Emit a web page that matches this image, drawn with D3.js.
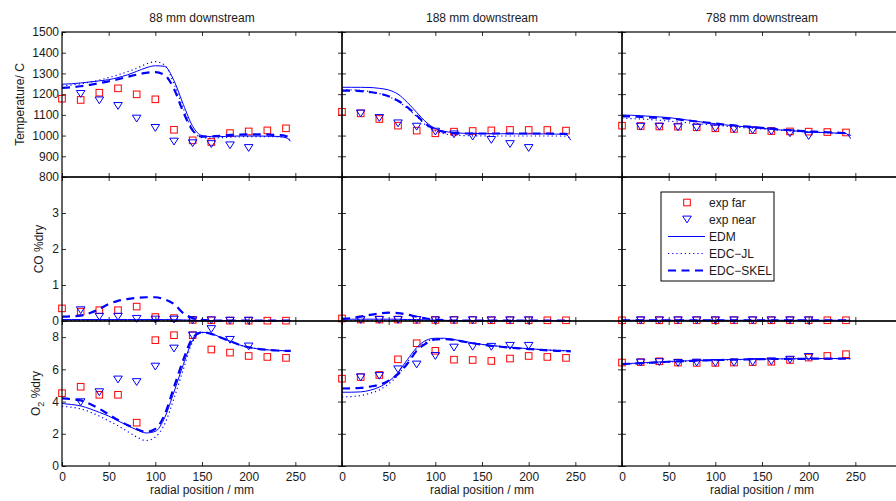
<!DOCTYPE html>
<html>
<head>
<meta charset="utf-8">
<script src="https://cdn.jsdelivr.net/npm/d3@7"></script>
<style>
  body { margin: 0; background: #fff; }
  svg text { font-family: "Liberation Sans", Arial, sans-serif; font-size: 12px; fill: #1a1a1a; }
</style>
</head>
<body>
<div id="chart"></div>
<script>
// radial positions (mm)
var radialFar = [0, 20, 40, 60, 80, 100, 120, 140, 160, 180, 200, 220, 240];
var radialNear = [20, 40, 60, 80, 100, 120, 140, 160, 180, 200];
var radialModel = [0, 10, 20, 30, 40, 50, 60, 70, 80, 90, 100, 110, 120, 130, 140, 150, 160, 170, 180, 190, 200, 210, 220, 230, 240, 245];

var columnTitles = ["88 mm downstream", "188 mm downstream", "788 mm downstream"];
var seriesNames = ["exp far", "exp near", "EDM", "EDC\u2212JL", "EDC\u2212SKEL"];
var xTicks = [0, 50, 100, 150, 200, 250];
var tempTicks = [800, 900, 1000, 1100, 1200, 1300, 1400, 1500];
var coTicks = [0, 1, 2, 3];
var o2Ticks = [0, 2, 4, 6, 8];

// temperature, 88 mm
var tempFar88 = [1178, 1172, 1207, 1228, 1199, 1175, 1028, 977, 969, 1012, 1020, 1025, 1035];
var tempNear88 = [1201, 1170, 1143, 1082, 1037, 971, 963, 959, 953, 940];
var tempEDM88 = [1248, 1250, 1254, 1259, 1264, 1270, 1280, 1293, 1310, 1327, 1337, 1334, 1265, 1150, 1045, 1000, 995, 995, 997, 998, 998, 998, 997, 996, 990, 972];
var tempJL88 = [1240, 1244, 1250, 1258, 1268, 1280, 1293, 1308, 1325, 1345, 1357, 1340, 1250, 1130, 1030, 990, 988, 990, 992, 994, 995, 995, 995, 994, 990, 975];
var tempSKEL88 = [1230, 1233, 1238, 1245, 1253, 1262, 1272, 1283, 1294, 1303, 1306, 1292, 1225, 1113, 1025, 995, 996, 999, 1003, 1005, 1006, 1006, 1005, 1003, 998, 990];

// temperature, 188 mm
var tempFar188 = [1115, 1107, 1080, 1048, 1024, 1011, 1019, 1022, 1025, 1027, 1027, 1027, 1024];
var tempNear188 = [1107, 1085, 1059, 1043, 1019, 1006, 995, 979, 959, 940];
var tempEDM188 = [1233, 1233, 1233, 1232, 1228, 1220, 1200, 1160, 1112, 1065, 1034, 1020, 1014, 1011, 1010, 1009, 1009, 1009, 1009, 1008, 1008, 1008, 1008, 1007, 1005, 978];
var tempJL188 = [1222, 1221, 1218, 1212, 1203, 1188, 1165, 1132, 1092, 1050, 1022, 1008, 1002, 1000, 999, 999, 998, 998, 998, 998, 998, 998, 998, 998, 997, 985];
var tempSKEL188 = [1217, 1217, 1215, 1210, 1203, 1190, 1168, 1137, 1097, 1055, 1030, 1017, 1012, 1010, 1010, 1010, 1010, 1010, 1010, 1010, 1010, 1010, 1010, 1009, 1008, 1000];

// temperature, 788 mm
var tempFar788 = [1048, 1046, 1044, 1043, 1040, 1035, 1032, 1026, 1022, 1020, 1019, 1017, 1015];
var tempNear788 = [1043, 1043, 1040, 1038, 1035, 1032, 1026, 1020, 1011, 998];
var tempEDM788 = [1099, 1098, 1096, 1093, 1090, 1087, 1081, 1075, 1069, 1062, 1057, 1052, 1047, 1043, 1039, 1035, 1031, 1027, 1024, 1021, 1018, 1016, 1014, 1012, 1010, 985];
var tempJL788 = [1083, 1082, 1080, 1077, 1074, 1070, 1066, 1062, 1058, 1054, 1050, 1046, 1042, 1038, 1035, 1032, 1029, 1026, 1023, 1020, 1017, 1015, 1013, 1011, 1009, 995];
var tempSKEL788 = [1093, 1092, 1090, 1088, 1085, 1082, 1078, 1073, 1068, 1063, 1058, 1053, 1049, 1045, 1041, 1037, 1033, 1029, 1026, 1023, 1020, 1018, 1016, 1014, 1012, 1000];

// CO %dry
var coFar88 = [0.35, 0.26, 0.3, 0.3, 0.4, 0.11, 0.08, 0.03, 0.02, 0.01, 0.01, 0.01, 0.01];
var coNear88 = [0.3, 0.12, 0.12, 0.06, 0.04, 0.04, 0.02, 0.02, 0.01, 0.01];
var coEDM88 = [0.04, 0.04, 0.04, 0.04, 0.04, 0.04, 0.04, 0.04, 0.04, 0.04, 0.04, 0.04, 0.035, 0.03, 0.02, 0.01, 0.01, 0.01, 0.01, 0.01, 0.01, 0.01, 0.01, 0.01, 0.01, 0.01];
var coJL88 = [0.02, 0.02, 0.02, 0.02, 0.02, 0.02, 0.02, 0.02, 0.02, 0.02, 0.02, 0.02, 0.02, 0.02, 0.015, 0.01, 0.01, 0.01, 0.01, 0.01, 0.01, 0.01, 0.01, 0.01, 0.01, 0.01];
var coSKEL88 = [0.12, 0.13, 0.15, 0.22, 0.33, 0.47, 0.56, 0.61, 0.64, 0.66, 0.66, 0.6, 0.47, 0.22, 0.08, 0.03, 0.015, 0.01, 0.01, 0.01, 0.01, 0.01, 0.01, 0.01, 0.01, 0.01];

var coFar188 = [0.07, 0.04, 0.04, 0.04, 0.03, 0.03, 0.03, 0.03, 0.02, 0.02, 0.02, 0.02, 0.02];
var coNear188 = [0.03, 0.03, 0.03, 0.03, 0.02, 0.02, 0.02, 0.02, 0.02, 0.02];
var coEDM188 = [0.05, 0.05, 0.05, 0.05, 0.05, 0.05, 0.05, 0.04, 0.04, 0.03, 0.02, 0.02, 0.01, 0.01, 0.01, 0.01, 0.01, 0.01, 0.01, 0.01, 0.01, 0.01, 0.01, 0.01, 0.01, 0.01];
var coJL188 = [0.02, 0.02, 0.02, 0.02, 0.02, 0.02, 0.02, 0.02, 0.02, 0.02, 0.02, 0.01, 0.01, 0.01, 0.01, 0.01, 0.01, 0.01, 0.01, 0.01, 0.01, 0.01, 0.01, 0.01, 0.01, 0.01];
var coSKEL188 = [0.06, 0.08, 0.12, 0.17, 0.21, 0.23, 0.22, 0.18, 0.12, 0.07, 0.04, 0.02, 0.01, 0.01, 0.01, 0.01, 0.01, 0.01, 0.01, 0.01, 0.01, 0.01, 0.01, 0.01, 0.01, 0.01];

var coFar788 = [0.02, 0.02, 0.02, 0.02, 0.02, 0.02, 0.02, 0.02, 0.02, 0.02, 0.02, 0.02, 0.02];
var coNear788 = [0.02, 0.02, 0.02, 0.02, 0.02, 0.02, 0.02, 0.02, 0.02, 0.02];
var coEDM788 = [0.02, 0.02, 0.02, 0.02, 0.02, 0.02, 0.02, 0.02, 0.02, 0.02, 0.02, 0.02, 0.02, 0.02, 0.02, 0.02, 0.02, 0.02, 0.02, 0.02, 0.02, 0.02, 0.02, 0.02, 0.02, 0.02];
var coJL788 = [0.01, 0.01, 0.01, 0.01, 0.01, 0.01, 0.01, 0.01, 0.01, 0.01, 0.01, 0.01, 0.01, 0.01, 0.01, 0.01, 0.01, 0.01, 0.01, 0.01, 0.01, 0.01, 0.01, 0.01, 0.01, 0.01];
var coSKEL788 = [0.02, 0.02, 0.02, 0.02, 0.02, 0.02, 0.02, 0.02, 0.02, 0.02, 0.02, 0.02, 0.02, 0.02, 0.02, 0.02, 0.02, 0.02, 0.02, 0.02, 0.02, 0.02, 0.02, 0.02, 0.02, 0.02];

// O2 %dry
var o2Far88 = [4.52, 4.92, 4.42, 4.42, 2.69, 7.81, 8.12, 8.12, 7.23, 7.04, 6.83, 6.77, 6.71];
var o2Near88 = [3.96, 4.58, 5.37, 5.21, 6.17, 7.29, 8.1, 8.5, 7.83, 7.42];
var o2EDM88 = [3.88, 3.82, 3.73, 3.55, 3.33, 3.1, 2.8, 2.52, 2.25, 2.05, 2.15, 3.0, 4.6, 6.3, 7.8, 8.3, 8.22, 7.98, 7.75, 7.52, 7.37, 7.27, 7.21, 7.17, 7.15, 7.14];
var o2JL88 = [3.7, 3.65, 3.55, 3.35, 3.1, 2.8, 2.5, 2.15, 1.8, 1.58, 1.8, 2.6, 4.2, 6.0, 7.7, 8.28, 8.2, 7.97, 7.74, 7.52, 7.37, 7.27, 7.21, 7.17, 7.15, 7.14];
var o2SKEL88 = [4.2, 4.15, 4.07, 3.85, 3.55, 3.2, 2.85, 2.55, 2.3, 2.12, 2.3, 3.2, 4.9, 6.6, 7.95, 8.3, 8.2, 7.97, 7.75, 7.52, 7.37, 7.27, 7.21, 7.17, 7.15, 7.14];

var o2Far188 = [5.42, 5.52, 5.65, 6.62, 7.62, 7.15, 6.6, 6.58, 6.52, 6.67, 6.83, 6.77, 6.71];
var o2Near188 = [5.5, 5.6, 6.0, 6.3, 6.83, 7.35, 7.4, 7.4, 7.46, 7.46];
var o2EDM188 = [4.58, 4.58, 4.6, 4.7, 4.9, 5.25, 5.8, 6.6, 7.35, 7.8, 7.93, 7.93, 7.85, 7.74, 7.64, 7.55, 7.48, 7.42, 7.37, 7.32, 7.28, 7.24, 7.2, 7.17, 7.15, 7.14];
var o2JL188 = [4.29, 4.31, 4.37, 4.52, 4.72, 5.1, 5.65, 6.45, 7.25, 7.7, 7.88, 7.9, 7.84, 7.74, 7.64, 7.55, 7.48, 7.42, 7.37, 7.32, 7.28, 7.24, 7.2, 7.17, 7.15, 7.14];
var o2SKEL188 = [4.81, 4.82, 4.85, 4.93, 5.05, 5.3, 5.7, 6.35, 7.15, 7.6, 7.85, 7.88, 7.83, 7.72, 7.62, 7.53, 7.46, 7.4, 7.35, 7.3, 7.26, 7.22, 7.18, 7.15, 7.13, 7.12];

var o2Far788 = [6.42, 6.45, 6.5, 6.42, 6.4, 6.4, 6.42, 6.45, 6.47, 6.58, 6.73, 6.83, 6.94];
var o2Near788 = [6.42, 6.45, 6.4, 6.42, 6.4, 6.42, 6.45, 6.5, 6.6, 6.77];
var o2EDM788 = [6.35, 6.37, 6.4, 6.43, 6.46, 6.49, 6.51, 6.53, 6.55, 6.57, 6.58, 6.6, 6.61, 6.62, 6.63, 6.64, 6.65, 6.65, 6.66, 6.66, 6.67, 6.67, 6.67, 6.67, 6.67, 6.66];
var o2JL788 = [6.32, 6.34, 6.37, 6.4, 6.43, 6.46, 6.48, 6.5, 6.52, 6.54, 6.56, 6.58, 6.59, 6.6, 6.61, 6.62, 6.63, 6.64, 6.64, 6.65, 6.65, 6.66, 6.66, 6.66, 6.66, 6.65];
var o2SKEL788 = [6.33, 6.35, 6.38, 6.41, 6.44, 6.47, 6.5, 6.52, 6.54, 6.56, 6.57, 6.59, 6.6, 6.61, 6.62, 6.63, 6.64, 6.64, 6.65, 6.65, 6.66, 6.66, 6.66, 6.66, 6.66, 6.65];

// layout
var svgWidth = 896;
var svgHeight = 501;
var colLeft = [62, 342, 622];
var panelWidth = 280;
var rowTop = [32, 177, 321];
var rowBottom = [177, 321, 466];

var rows = [
  { domain: [800, 1500], ticks: tempTicks },
  { domain: [0, 4], ticks: coTicks },
  { domain: [0, 9], ticks: o2Ticks }
];

var panels = [
  { row: 0, col: 0, far: tempFar88, near: tempNear88, edm: tempEDM88, jl: tempJL88, skel: tempSKEL88 },
  { row: 0, col: 1, far: tempFar188, near: tempNear188, edm: tempEDM188, jl: tempJL188, skel: tempSKEL188 },
  { row: 0, col: 2, far: tempFar788, near: tempNear788, edm: tempEDM788, jl: tempJL788, skel: tempSKEL788 },
  { row: 1, col: 0, far: coFar88, near: coNear88, edm: coEDM88, jl: coJL88, skel: coSKEL88 },
  { row: 1, col: 1, far: coFar188, near: coNear188, edm: coEDM188, jl: coJL188, skel: coSKEL188 },
  { row: 1, col: 2, far: coFar788, near: coNear788, edm: coEDM788, jl: coJL788, skel: coSKEL788 },
  { row: 2, col: 0, far: o2Far88, near: o2Near88, edm: o2EDM88, jl: o2JL88, skel: o2SKEL88 },
  { row: 2, col: 1, far: o2Far188, near: o2Near188, edm: o2EDM188, jl: o2JL188, skel: o2SKEL188 },
  { row: 2, col: 2, far: o2Far788, near: o2Near788, edm: o2EDM788, jl: o2JL788, skel: o2SKEL788 }
];

var blue = "#0000ff";
var red = "#ff0000";

// downward triangle marker, like matlab 'v'
var triangleDown = {
  draw: function(context, size) {
    var w = 4.3, h = 3.4;
    context.moveTo(-w, -h);
    context.lineTo(w, -h);
    context.lineTo(0, h);
    context.closePath();
  }
};
var squareSide = 6.6;

var lineStyles = [
  { key: "edm", width: 1, dash: null },
  { key: "jl", width: 1.2, dash: "1.2 3" },
  { key: "skel", width: 2.2, dash: "8 5.5" }
];

var svg = d3.select("#chart")
  .append("svg")
  .attr("width", svgWidth)
  .attr("height", svgHeight);

panels.forEach(function(p) {
  var x = d3.scaleLinear()
    .domain([0, 300])
    .range([colLeft[p.col], colLeft[p.col] + panelWidth]);
  var y = d3.scaleLinear()
    .domain(rows[p.row].domain)
    .range([rowBottom[p.row], rowTop[p.row]]);

  var g = svg.append("g");

  // axes, ticks pointing inwards
  var bottomAxis = d3.axisBottom(x).tickValues(xTicks).tickSize(-4).tickPadding(6)
    .tickFormat(p.row === 2 ? d3.format("d") : "");
  var topAxis = d3.axisTop(x).tickValues(xTicks).tickSize(-4).tickFormat("");
  var leftAxis = d3.axisLeft(y).tickValues(rows[p.row].ticks).tickSize(-4).tickPadding(3)
    .tickFormat(p.col === 0 ? d3.format("d") : "");
  var rightAxis = d3.axisRight(y).tickValues(rows[p.row].ticks).tickSize(-4).tickFormat("");

  g.append("g").attr("transform", `translate(0, ${rowBottom[p.row]})`).call(bottomAxis);
  g.append("g").attr("transform", `translate(0, ${rowTop[p.row]})`).call(topAxis);
  g.append("g").attr("transform", `translate(${colLeft[p.col]}, 0)`).call(leftAxis);
  g.append("g").attr("transform", `translate(${colLeft[p.col] + panelWidth}, 0)`).call(rightAxis);
  g.selectAll(".domain").remove();
  g.selectAll(".tick line").attr("stroke", "#000").attr("stroke-width", 0.8);

  // exp far
  g.selectAll(null)
    .data(p.far)
    .enter()
    .append("rect")
    .attr("x", (d, i) => x(radialFar[i]) - squareSide / 2)
    .attr("y", d => y(d) - squareSide / 2)
    .attr("width", squareSide)
    .attr("height", squareSide)
    .attr("fill", "none")
    .attr("stroke", red)
    .attr("stroke-width", 1);

  // exp near
  g.selectAll(null)
    .data(p.near)
    .enter()
    .append("path")
    .attr("d", d3.symbol(triangleDown, 64))
    .attr("transform", (d, i) => `translate(${x(radialNear[i])}, ${y(d)})`)
    .attr("fill", "none")
    .attr("stroke", blue)
    .attr("stroke-width", 1);

  // model lines
  lineStyles.forEach(function(s) {
    var line = d3.line()
      .x((d, i) => x(radialModel[i]))
      .y(d => y(d))
      .curve(d3.curveMonotoneX);
    g.append("path")
      .datum(p[s.key])
      .attr("d", line)
      .attr("fill", "none")
      .attr("stroke", blue)
      .attr("stroke-width", s.width)
      .attr("stroke-dasharray", s.dash);
  });
});

// panel frames on top
panels.forEach(function(p) {
  svg.append("rect")
    .attr("x", colLeft[p.col])
    .attr("y", rowTop[p.row])
    .attr("width", panelWidth)
    .attr("height", rowBottom[p.row] - rowTop[p.row])
    .attr("fill", "none")
    .attr("stroke", "#000")
    .attr("stroke-width", 1.2);
});

// column titles and x labels
columnTitles.forEach(function(t, c) {
  var cx = colLeft[c] + panelWidth / 2;
  svg.append("text")
    .attr("x", cx)
    .attr("y", 22)
    .attr("text-anchor", "middle")
    .text(t);
  svg.append("text")
    .attr("x", cx)
    .attr("y", 494)
    .attr("text-anchor", "middle")
    .text("radial position / mm");
});

// y labels
svg.append("text")
  .attr("transform", `translate(24, ${(rowTop[0] + rowBottom[0]) / 2}) rotate(-90)`)
  .attr("text-anchor", "middle")
  .text("Temperature/ C");

svg.append("text")
  .attr("transform", `translate(43, ${(rowTop[1] + rowBottom[1]) / 2}) rotate(-90)`)
  .attr("text-anchor", "middle")
  .text("CO %dry");

var o2Label = svg.append("text")
  .attr("transform", `translate(40, ${(rowTop[2] + rowBottom[2]) / 2}) rotate(-90)`)
  .attr("text-anchor", "middle");
o2Label.append("tspan").text("O");
o2Label.append("tspan").attr("dy", 4).style("font-size", "9px").text("2");
o2Label.append("tspan").attr("dy", -4).text(" %dry");

// legend
var legend = svg.append("g").attr("transform", "translate(661, 192)");
legend.append("rect")
  .attr("width", 113)
  .attr("height", 89)
  .attr("fill", "#fff")
  .attr("stroke", "#000")
  .attr("stroke-width", 1);

seriesNames.forEach(function(name, i) {
  var ly = 10.5 + i * 17;
  if (i === 0) {
    legend.append("rect")
      .attr("x", 26 - squareSide / 2)
      .attr("y", ly - squareSide / 2)
      .attr("width", squareSide)
      .attr("height", squareSide)
      .attr("fill", "none")
      .attr("stroke", red);
  } else if (i === 1) {
    legend.append("path")
      .attr("d", d3.symbol(triangleDown, 64))
      .attr("transform", `translate(26, ${ly})`)
      .attr("fill", "none")
      .attr("stroke", blue);
  } else {
    var s = lineStyles[i - 2];
    legend.append("line")
      .attr("x1", 7)
      .attr("x2", 44)
      .attr("y1", ly)
      .attr("y2", ly)
      .attr("stroke", blue)
      .attr("stroke-width", s.width)
      .attr("stroke-dasharray", s.dash);
  }
  legend.append("text")
    .attr("x", 48)
    .attr("y", ly)
    .attr("dy", "0.35em")
    .text(name);
});
</script>
</body>
</html>
